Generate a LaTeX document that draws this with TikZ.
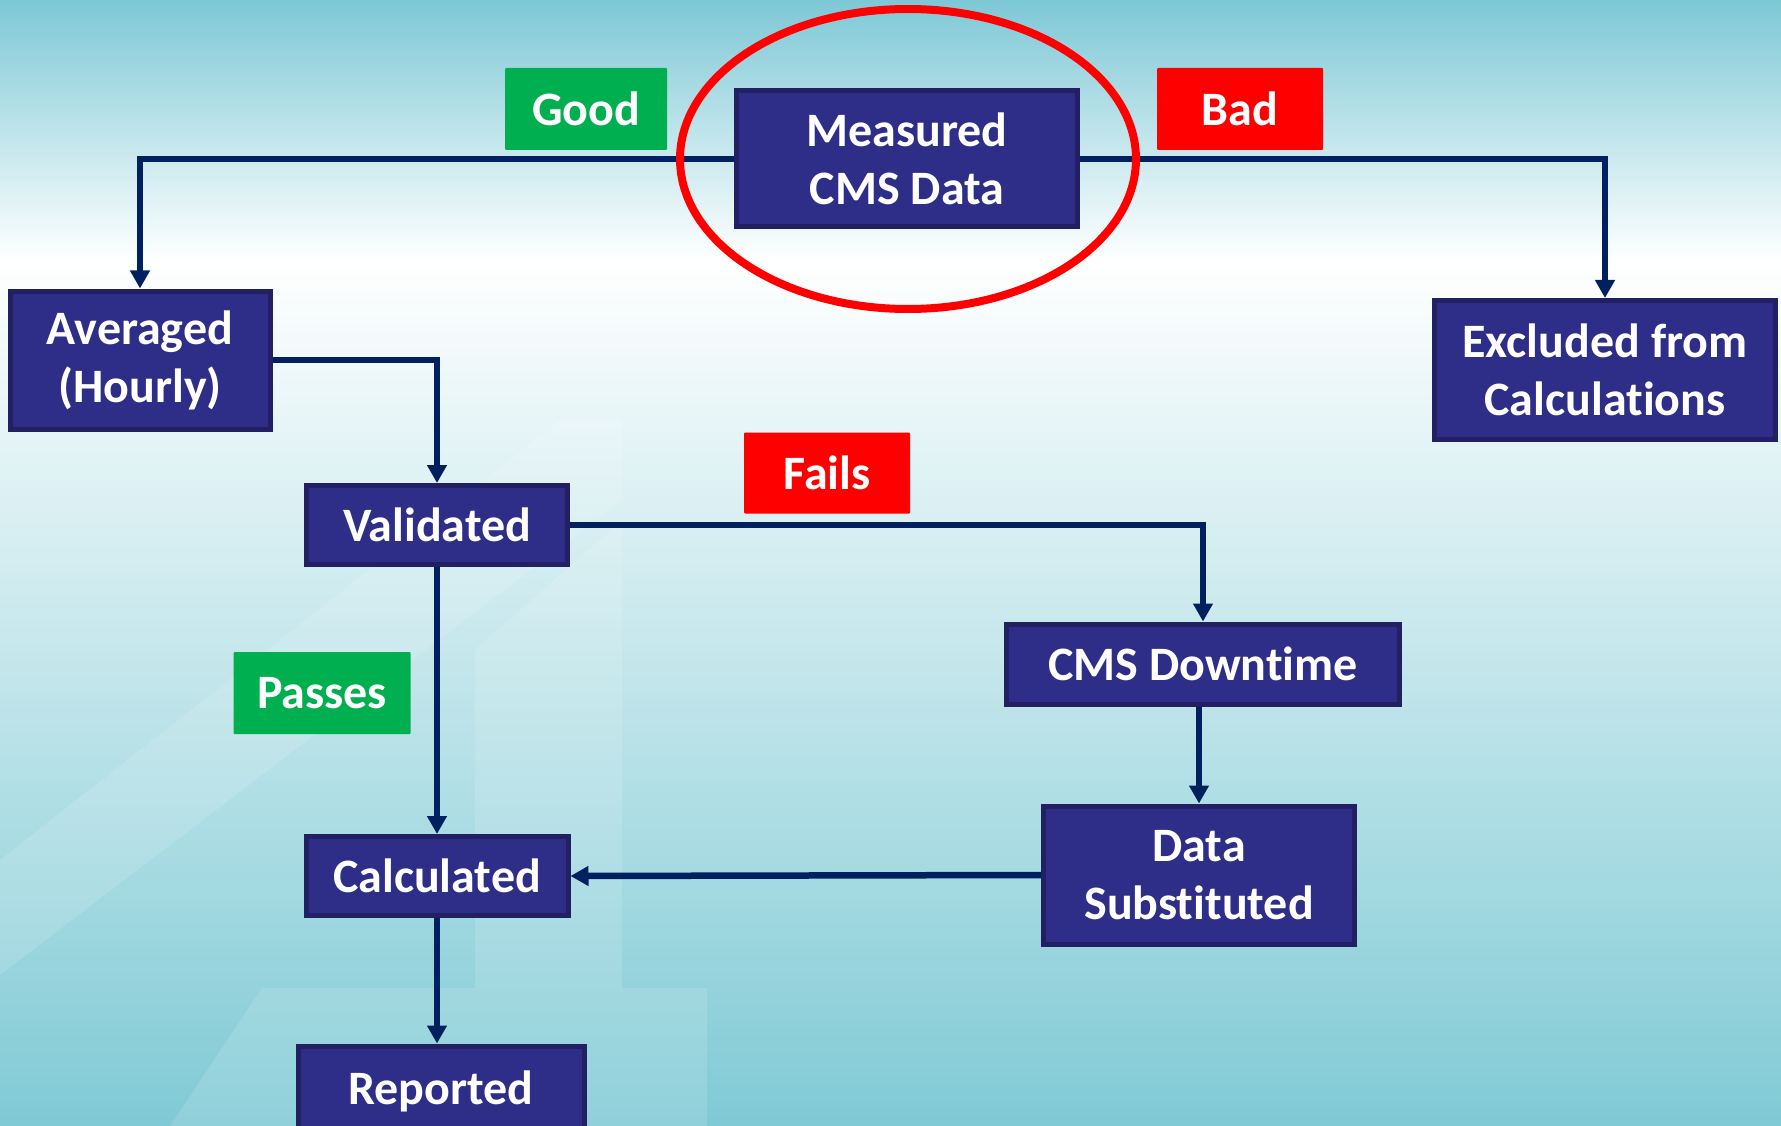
\documentclass[tikz,border=0pt]{standalone}
\usepackage{fontspec}
\setmainfont{Carlito}[Ligatures=NoCommon]
\usetikzlibrary{arrows.meta,shapes.geometric}
\definecolor{boxfill}{RGB}{46,45,136}
\definecolor{boxedge}{RGB}{34,31,98}
\definecolor{linecol}{RGB}{0,32,96}
\definecolor{goodgreen}{RGB}{0,176,80}
\definecolor{badred}{RGB}{255,0,0}
\definecolor{tealtop}{RGB}{125,200,214}
\definecolor{tealmid}{RGB}{192,233,236}
\definecolor{tealbot}{RGB}{128,202,213}
\tikzset{
  flowbox/.style={rectangle, fill=boxfill, draw=boxedge, line width=5pt,
    text=white, font=\fontsize{48}{58}\selectfont\bfseries, align=center,
    inner sep=0pt},
  tagbox/.style={rectangle, text=white, font=\fontsize{48}{58}\selectfont\bfseries,
    inner sep=0pt, rounded corners=1pt},
  conn/.style={draw=linecol, line width=6.5pt, -{Triangle[length=18pt,width=19pt]}},
}
\begin{document}
\begin{tikzpicture}[x=1pt,y=-1pt]
\useasboundingbox (0,0) rectangle (1781,1126);
\clip (0,0) rectangle (1781,1126);
% background
\shade[top color=tealtop, bottom color=white] (0,0) rectangle (1781,260);
\shade[top color=white, middle color=tealmid, bottom color=tealbot] (0,259) rectangle (1781,1126);
% faint watermark "4"
\fill[white, opacity=0.13] (0,860) -- (560,420) -- (622,420) -- (622,500) -- (0,975) -- cycle;
\fill[white, opacity=0.13] (475,650) -- (622,520) -- (622,988) -- (475,988) -- cycle;
\fill[white, opacity=0.13] (262,988) -- (707,988) -- (707,1126) -- (170,1126) -- cycle;

% nodes
\node[flowbox, minimum width=341pt, minimum height=136pt] (meas) at (907,159) {Measured\\CMS Data};
\node[flowbox, minimum width=260pt, minimum height=138pt] (avg) at (140,360) {Averaged\\(Hourly)};
\node[flowbox, minimum width=341pt, minimum height=139pt] (excl) at (1605,370) {Excluded from\\Calculations};
\node[flowbox, minimum width=261pt, minimum height=79pt] (val) at (437,525) {Validated};
\node[flowbox, minimum width=393pt, minimum height=80pt] (down) at (1203,664) {CMS Downtime};
\node[flowbox, minimum width=311pt, minimum height=138pt] (subst) at (1199,875) {Data\\Substituted};
\node[flowbox, minimum width=262pt, minimum height=79pt] (calc) at (437,876) {Calculated};
\node[flowbox, minimum width=286pt, minimum height=90pt] (rep) at (441,1091) {Reported};

% tags
\node[tagbox, fill=goodgreen, minimum width=162pt, minimum height=82pt] (good) at (586,109) {Good};
\node[tagbox, fill=badred, minimum width=166pt, minimum height=82pt] (bad) at (1240,109) {Bad};
\node[tagbox, fill=badred, minimum width=166pt, minimum height=81pt] (fails) at (827,473) {Fails};
\node[tagbox, fill=goodgreen, minimum width=177pt, minimum height=82pt] (passes) at (322,693) {Passes};

% connectors
\draw[conn] (meas.west) -| (avg.north);
\draw[conn] (meas.east) -| (excl.north);
\draw[conn] (avg.east) -| (val.north);
\draw[conn] (val.east) -| (down.north);
\draw[conn] (val.south) -- (calc.north);
\draw[conn] (subst.north |- down.south) -- (subst.north);
\draw[conn] (subst.west) -- (calc.east);
\draw[conn] (calc.south) -- (calc.south |- rep.north);

% red highlight ellipse
\node[ellipse, draw=red, line width=8pt, minimum width=456pt, minimum height=300pt, inner sep=0pt] (ring) at (908,159) {};
\end{tikzpicture}
\end{document}
